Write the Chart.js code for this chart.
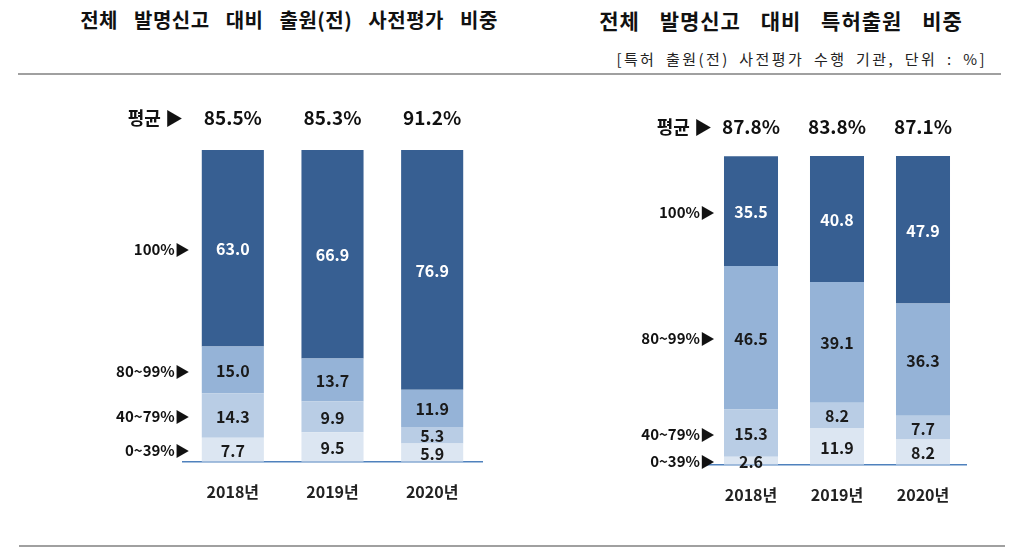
<!DOCTYPE html>
<html>
<head>
<meta charset="utf-8">
<script src="https://cdn.jsdelivr.net/npm/chart.js@4"></script>
<style>
  body { margin: 0; background: #fff; font-family: "Noto Sans CJK KR", sans-serif; }
  #wrap { position: relative; width: 1013px; height: 559px; overflow: hidden; }
  .title { position: absolute; top: 5px; font-weight: 700; color: #111; text-align: center; white-space: nowrap; }
  #t1 { left: 0; width: 578px; font-size: 20px; letter-spacing: 0.5px; word-spacing: 11px; }
  #t2 { left: 581px; width: 400px; font-size: 21px; letter-spacing: 1px; word-spacing: 14px; }
  #sub { position: absolute; right: 26px; top: 48px; font-size: 15px; color: #222; letter-spacing: 2.4px; word-spacing: 4px; white-space: nowrap; }
  .rule { position: absolute; height: 2px; background: #a0a0a0; }
  canvas { position: absolute; }
</style>
</head>
<body>
<div id="wrap">
  <div class="title" id="t1">전체 발명신고 대비 출원(전) 사전평가 비중</div>
  <div class="title" id="t2">전체 발명신고 대비 특허출원 비중</div>
  <div id="sub">[특허 출원(전) 사전평가 수행 기관, 단위 : %]</div>
  <div class="rule" style="left:18px; top:73px; width:983px;"></div>
  <div class="rule" style="left:19px; top:545px; width:986px;"></div>
  <canvas id="chartLeft" width="510" height="461" style="left:0; top:80px;"></canvas>
  <canvas id="chartRight" width="493" height="461" style="left:520px; top:80px;"></canvas>
</div>
<script>
// categories and band names
const years = ["2018년", "2019년", "2020년"];
const bands = ["0~39%", "40~79%", "80~99%", "100%"];
const bandColors = ["#DCE6F2", "#B9CDE5", "#95B3D7", "#375F92"];

// left chart: 출원(전) 사전평가 비중
const leftBand0 = [7.7, 9.5, 5.9];
const leftBand1 = [14.3, 9.9, 5.3];
const leftBand2 = [15.0, 13.7, 11.9];
const leftBand3 = [63.0, 66.9, 76.9];
const leftAvg = [85.5, 85.3, 91.2];

// right chart: 특허출원 비중
const rightBand0 = [2.6, 11.9, 8.2];
const rightBand1 = [15.3, 8.2, 7.7];
const rightBand2 = [46.5, 39.1, 36.3];
const rightBand3 = [35.5, 40.8, 47.9];
const rightAvg = [87.8, 83.8, 87.1];

const FONT = '"Noto Sans CJK KR", sans-serif';

const labelPlugin = {
  id: "labels",
  afterDatasetsDraw(chart, args, opts) {
    const ctx = chart.ctx;
    const area = chart.chartArea;
    ctx.save();
    ctx.textBaseline = "middle";
    chart.data.datasets.forEach((ds, di) => {
      const meta = chart.getDatasetMeta(di);
      meta.data.forEach((bar, i) => {
        const mid = (bar.y + bar.base) / 2;
        ctx.textAlign = "center";
        ctx.font = "bold 16px " + FONT;
        ctx.fillStyle = di === 3 ? "#ffffff" : "#1a1a1a";
        ctx.fillText(ds.data[i].toFixed(1), bar.x, mid + 1);
        if (i === 0) {
          ctx.textAlign = "right";
          ctx.font = "bold 15px " + FONT;
          ctx.fillStyle = "#111";
          ctx.fillText(ds.label + "▶", bar.x - bar.width / 2 - opts.labelGap, mid + 1);
        }
      });
    });
    // averages above the bars
    const meta0 = chart.getDatasetMeta(0);
    const avgY = area.top - opts.avgGap;
    ctx.fillStyle = "#111";
    ctx.font = "bold 19px " + FONT;
    ctx.textAlign = "center";
    opts.avg.forEach((v, i) => {
      ctx.fillText(v.toFixed(1) + "%", meta0.data[i].x, avgY);
    });
    ctx.textAlign = "right";
    ctx.font = "bold 18px " + FONT;
    ctx.fillText("평균 ▶", area.left + opts.avgLabelShift, avgY);
    ctx.restore();
  }
};

function makeChart(id, series, avg, padding, barPct, labelGap, avgGap, avgLabelShift) {
  new Chart(document.getElementById(id), {
    type: "bar",
    data: {
      labels: years,
      datasets: series.map((d, i) => ({
        label: bands[i],
        data: d,
        backgroundColor: bandColors[i],
        borderWidth: 0,
        categoryPercentage: 1,
        barPercentage: barPct
      }))
    },
    options: {
      responsive: false,
      animation: false,
      layout: { padding: padding },
      plugins: {
        legend: { display: false },
        tooltip: { enabled: false },
        labels: { avg: avg, labelGap: labelGap, avgGap: avgGap, avgLabelShift: avgLabelShift }
      },
      scales: {
        x: {
          stacked: true,
          grid: { display: false, drawTicks: false },
          border: { color: "#4F81BD", width: 1.5 },
          ticks: { color: "#222", padding: 21, font: { family: FONT, size: 16, weight: "bold" } }
        },
        y: { stacked: true, display: false, min: 0, max: 100 }
      }
    },
    plugins: [labelPlugin]
  });
}

makeChart("chartLeft", [leftBand0, leftBand1, leftBand2, leftBand3], leftAvg,
  { left: 183, right: 28, top: 70, bottom: 18 }, 0.623, 12, 32, 0);
makeChart("chartRight", [rightBand0, rightBand1, rightBand2, rightBand3], rightAvg,
  { left: 188, right: 47, top: 76, bottom: 15 }, 0.628, 9, 29, 4);
</script>
</body>
</html>
